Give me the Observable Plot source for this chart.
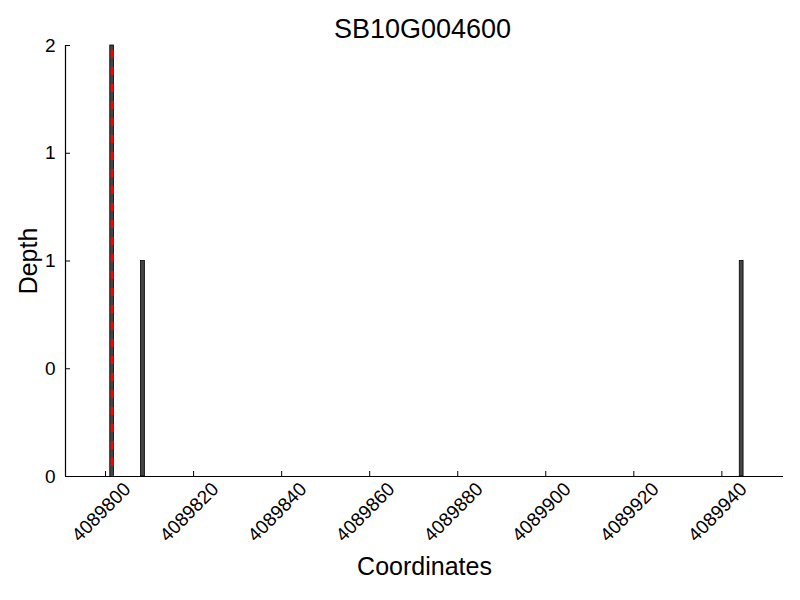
<!DOCTYPE html>
<html><head><meta charset="utf-8">
<script src="https://cdn.jsdelivr.net/npm/d3@7"></script>
<script src="https://cdn.jsdelivr.net/npm/@observablehq/plot@0.6"></script>
<style>
body{margin:0;background:#fff;font-family:"Liberation Sans",Arial,sans-serif;}
#wrap{position:relative;width:800px;height:600px;}
#title{position:absolute;top:13px;left:0;width:845px;text-align:center;font-size:27px;line-height:32px;color:#000;}
</style></head>
<body><div id="wrap"><div id="title"></div><div id="chart"></div></div>
<script>
const title = "SB10G004600";
const positions = [4089801, 4089808, 4089944];
const depths = [2, 1, 1];
const markerPos = [4089801];
const xTicks = [4089800, 4089820, 4089840, 4089860, 4089880, 4089900, 4089920, 4089940];
const yTicks = [0, 0.5, 1, 1.5, 2];
const yTickLabels = ["0", "0", "1", "1", "2"];

document.getElementById("title").textContent = title;
const data = positions.map((p, i) => ({pos: p, depth: depths[i]}));

const chart = Plot.plot({
  width: 800, height: 600,
  marginLeft: 65, marginRight: 17, marginTop: 45, marginBottom: 124,
  style: {fontFamily: "Liberation Sans, Arial, sans-serif", background: "white", color: "black", fontSize: "19px"},
  x: {domain: [4089790.9, 4089954], label: null},
  y: {domain: [0, 2], label: null},
  marks: [
    Plot.rectY(data, {x1: d => d.pos, x2: d => d.pos + 1, y1: 0, y2: "depth", fill: "#444", stroke: "black", strokeWidth: 0.8, insetLeft: 0.3, insetRight: 0.3}),
    Plot.ruleX(markerPos, {x: d => d + 0.5, stroke: "red", strokeWidth: 3, strokeDasharray: "8,9", strokeDashoffset: -5}),
    Plot.ruleY([0], {stroke: "black", strokeWidth: 1.2}),
    Plot.ruleX([4089790.9], {stroke: "black", strokeWidth: 1.2}),
    Plot.axisX({ticks: xTicks, tickSize: -5, tickFormat: () => "", label: null}),
    Plot.text(xTicks, {x: d => d, frameAnchor: "bottom", dy: 40, rotate: -45, textAnchor: "middle", fontSize: 19, text: d => String(d)}),
    Plot.axisY({ticks: yTicks, tickSize: -5, tickPadding: 15, fontSize: 19, tickFormat: (d, i) => yTickLabels[i], label: null}),
    Plot.text(["Depth"], {frameAnchor: "left", textAnchor: "middle", dx: -37, rotate: -90, fontSize: 25, text: d => d}),
    Plot.text(["Coordinates"], {frameAnchor: "bottom", dy: 98, fontSize: 25, text: d => d})
  ]
});
document.getElementById("chart").appendChild(chart);
</script></body></html>
